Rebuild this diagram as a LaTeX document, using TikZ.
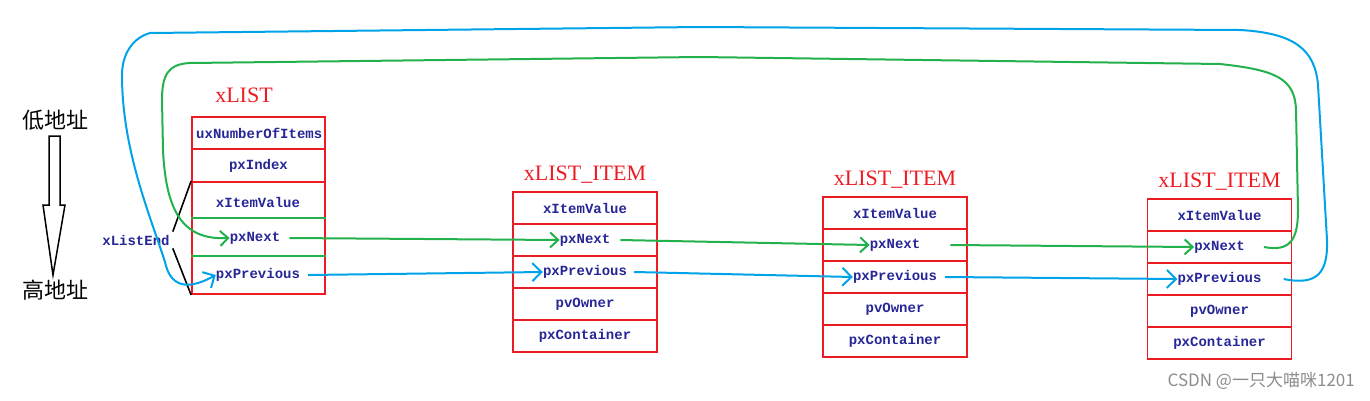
\documentclass[tikz,border=0pt]{standalone}
\usepackage{fontspec}
\setmainfont{Liberation Serif}
\newfontfamily\cellfont{Liberation Mono}
\newfontfamily\cjkfont{Noto Sans CJK SC}
\usetikzlibrary{arrows.meta}
\definecolor{pred}{RGB}{237,28,36}
\definecolor{pgreen}{RGB}{34,177,76}
\definecolor{pblue}{RGB}{0,162,232}
\definecolor{pnavy}{RGB}{38,38,150}
\tikzset{
  cell/.style={draw=pred,line width=1.8pt,minimum width=144pt,minimum height=32pt,inner sep=0pt},
  txt/.style={inner sep=0pt,text=pnavy,font=\cellfont\bfseries\fontsize{14}{16}\selectfont},
  redtitle/.style={inner sep=0pt,text=pred,font=\fontsize{22}{24}\selectfont},
  cjk/.style={inner sep=0pt,font=\cjkfont\fontsize{22}{24}\selectfont},
  gline/.style={draw=pgreen,line width=2pt},
  gar/.style={draw=pgreen,line width=2pt,-{Straight Barb[length=8pt,width=15pt]}},
  bar/.style={draw=pblue,line width=2pt,-{Straight Barb[length=9pt,width=18pt]}},
}
\newcommand\drawitem[3]{%
  \node[redtitle] (#1t) at (#2,#3-17) {xLIST\_ITEM};
  \node[cell] (#1a) at (#2,#3+16) {};
  \node[txt] (#1val) at (#1a) {xItemValue};
  \node[cell] (#1b) at (#2,#3+48) {};
  \node[txt] (#1next) at (#1b) {pxNext};
  \node[cell] (#1c) at (#2,#3+80) {};
  \node[txt] (#1prev) at (#1c) {pxPrevious};
  \node[cell] (#1d) at (#2,#3+112) {};
  \node[txt] (#1own) at (#1d) {pvOwner};
  \node[cell] (#1e) at (#2,#3+144) {};
  \node[txt] (#1con) at (#1e) {pxContainer};
}
\begin{document}
\begin{tikzpicture}[x=1pt,y=-1pt]
\useasboundingbox (0,0) rectangle (1370,400);

% address direction
\node[cjk] (low) at (55,120) {低地址};
\node[cjk] (high) at (55,290) {高地址};
\draw[line width=1.5pt] (49,136) -- (60,136) -- (60,205) -- (65,205) -- (53,275) -- (43,205) -- (49,205) -- cycle;

% xLIST
\node[redtitle] (Lt) at (244,95) {xLIST};
\node[cell,minimum width=133pt,minimum height=32pt] (La) at (258.5,133) {};
\node[txt,anchor=west] (Lnum) at (196,133) {uxNumberOfItems};
\node[cell,minimum width=133pt,minimum height=33pt] (Lb) at (258.5,165.5) {};
\node[txt] (Lidx) at (Lb) {pxIndex};
\node[cell,minimum width=133pt,minimum height=112pt] (Lc) at (258.5,238) {};
\node[txt] (Lval) at (258,202) {xItemValue};
\node[txt] (Lnext) at (255,238) {pxNext};
\node[txt] (Lprev) at (258,275) {pxPrevious};
\draw[gline] ([yshift=-37pt]Lc.north west) -- ([yshift=-37pt]Lc.north east);
\draw[gline] ([yshift=-75pt]Lc.north west) -- ([yshift=-75pt]Lc.north east);

\node[txt,inner sep=3pt] (xle) at (136,240) {xListEnd};
\draw[line width=1.6pt] (xle.north east) -- (Lc.north west);
\draw[line width=1.6pt] (xle.south east) -- (Lc.south west);

% items
\drawitem{A}{585}{192}
\drawitem{B}{895}{197}
\drawitem{C}{1219.5}{199}

% pxNext chain (green)
\draw[gar] ([xshift=9pt]Lnext.east) -- (Anext.west);
\draw[gar] ([xshift=10pt]Anext.east) -- (Bnext.west);
\draw[gar] ([xshift=30pt]Bnext.east) -- (Cnext.west);
\draw[gar] ([xshift=19pt]Cnext.east) .. controls (1290,252) and (1298,240) .. (1298,210)
  -- (1296,110) .. controls (1295,78) and (1275,70) .. (1220,64)
  -- (700,57) -- (190,63) .. controls (168,64) and (162,75) .. (162,100)
  -- (163,150) .. controls (166,215) and (185,240) .. (Lnext.west);

% pxPrevious chain (blue)
\draw[bar] ([xshift=8pt]Lprev.east) -- (Aprev.west);
\draw[bar] ([xshift=7pt]Aprev.east) -- (Bprev.west);
\draw[bar] ([xshift=8pt]Bprev.east) -- (Cprev.west);
\draw[bar] ([xshift=22pt]Cprev.east) .. controls (1318,286) and (1328,272) .. (1327,240)
  -- (1318,85) .. controls (1315,50) and (1295,33) .. (1240,30)
  -- (700,27) -- (150,33) .. controls (132,38) and (122,55) .. (122,75)
  .. controls (122,150) and (150,215) .. (165,262)
  .. controls (170,285) and (185,292) .. (Lprev.west);

% watermark
\node[inner sep=0pt,text=black!45,font=\cjkfont\fontsize{17}{19}\selectfont,anchor=east] (wm) at (1355,381) {CSDN @一只大喵咪1201};
\end{tikzpicture}
\end{document}
